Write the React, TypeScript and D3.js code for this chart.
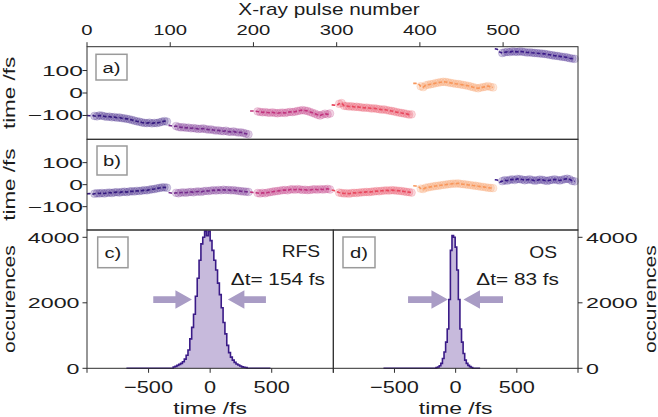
import React from "react";
import * as d3 from "d3";

// ---------- data ----------
const pulseTicks = [0, 100, 200, 300, 400, 500];
const timeTicksAB = [-100, 0, 100];
const histXTicks = [-1000, -500, 0, 500, 1000];
const histXLabels = [-500, 0, 500];
const histYTicks = [0, 2000, 4000];

const segStarts = [0, 98, 196, 294, 392, 490];
const pulseStep = 3;
const segColors = ["#35197f", "#742a8c", "#c1347e", "#e8485e", "#f8965a", "#3a1a88"];

// panel a) RFS arrival time (fs), one value every 3 pulses
const a1 = [-100,-101,-99,-102,-104,-100,-101,-104,-106,-105,-108,-107,-110,-109,-112,-113,-115,-117,-120,-123,-126,-128,-131,-133,-134,-132,-135,-133,-134,-131,-128,-125,-127];
const a2 = [-144,-146,-149,-147,-151,-153,-152,-155,-154,-157,-156,-158,-160,-159,-158,-161,-163,-162,-165,-167,-166,-169,-170,-168,-172,-173,-171,-174,-176,-175,-178,-181,-184];
const a3 = [-80,-80,-81,-82,-84,-86,-85,-87,-88,-86,-89,-90,-88,-87,-89,-86,-84,-85,-83,-80,-78,-76,-78,-80,-84,-88,-92,-97,-100,-96,-92,-95,-91];
const a4 = [-53,-54,-55,-48,-45,-57,-58,-60,-59,-62,-61,-63,-64,-66,-65,-67,-69,-68,-70,-72,-74,-73,-76,-78,-80,-82,-85,-87,-89,-91,-93,-96,-95];
const a5 = [43,43,42,30,26,34,37,39,41,44,46,48,50,49,47,45,43,41,40,38,36,34,32,29,26,23,21,24,26,28,31,27,25];
const a6 = [197,195,182,178,181,183,182,185,184,183,185,184,182,180,181,179,178,177,176,175,174,172,170,168,166,165,163,161,160,158,155,153,152];

// panel b) OS arrival time (fs)
const b1 = [-42,-40,-44,-41,-39,-40,-38,-40,-37,-36,-38,-35,-34,-36,-33,-32,-34,-31,-30,-31,-28,-29,-27,-25,-26,-23,-21,-20,-17,-15,-13,-12,-14];
const b2 = [-36,-38,-40,-37,-39,-36,-35,-37,-34,-33,-35,-32,-31,-33,-30,-28,-29,-27,-25,-27,-24,-26,-23,-25,-24,-26,-25,-27,-28,-30,-31,-32,-33];
const b3 = [-33,-35,-36,-38,-40,-37,-39,-36,-34,-32,-30,-29,-27,-25,-24,-26,-22,-21,-23,-20,-22,-24,-23,-25,-24,-22,-21,-23,-20,-22,-21,-19,-22];
const b4 = [-24,-27,-32,-36,-38,-40,-39,-41,-38,-37,-38,-36,-35,-34,-33,-34,-32,-31,-29,-30,-28,-27,-26,-27,-25,-26,-27,-28,-29,-31,-33,-34,-36];
const b5 = [-5,-6,-8,-18,-20,-14,-12,-10,-8,-6,-5,-3,-1,0,2,3,5,4,6,3,2,1,-1,-2,-4,-5,-7,-9,-10,-12,-14,-15,-16];
const b6 = [22,21,12,16,20,18,22,24,21,26,25,23,20,22,24,21,18,20,23,22,19,17,20,22,24,21,19,22,25,27,24,17,15];

const seriesA = [a1, a2, a3, a4, a5, a6];
const seriesB = [b1, b2, b3, b4, b5, b6];

// panel c) RFS histogram
const rfsStart = -300;
const rfsBin = 15;
const rfsCounts = [40,60,90,120,150,200,280,400,560,900,1250,1650,2200,2750,3300,3800,4000,4190,4050,4180,3900,3600,3300,3000,2600,2250,1850,1400,1050,700,480,340,250,180,130,100,70,45,30,20];
const rfsTail = [-680, 490];

// panel d) OS histogram
const osStart = -160;
const osBin = 13;
const osCounts = [20,40,80,150,300,500,800,1200,2100,3600,4050,4000,3700,3000,2100,1200,800,450,250,150,90,50,25];
const osTail = [-590, 200];

// annotation: FWHM arrows (tail, tip) in fs, at half maximum
const rfsArrows = [[-462, -148], [453, 144]];
const osArrows = [[-389, -63], [387, 64]];
const halfMax = 2100;

// ---------- drawing ----------
const FONT = "'Liberation Sans', Arial, sans-serif";
const INK = "#1c1c1c";
const AX = "#2e2e2e";

function Label({ x, y, text, size, sx = 1.35, anchor = "middle", rot = 0 }: any) {
  return (
    <text
      transform={`translate(${x},${y}) rotate(${rot}) scale(${sx},1)`}
      fontSize={size}
      fontFamily={FONT}
      textAnchor={anchor}
      fill={INK}
    >
      {text}
    </text>
  );
}

const fmt = (v: number) => (v < 0 ? "\u2212" + Math.abs(v) : String(v));

function Series({ vals, start, color, x, y }: any) {
  const pts: [number, number][] = vals.map((v: number, i: number) => [x(start + i * pulseStep), y(v)]);
  const line = d3.line()(pts) || "";
  return (
    <g>
      {pts.slice(3).map(([px, py], i) => (
        <circle key={i} cx={px} cy={py} r={3.9} fill={color} fillOpacity={0.22} stroke={color} strokeOpacity={0.22} strokeWidth={0.8} />
      ))}
      <path d={line} fill="none" stroke={color} strokeWidth={1.6} strokeDasharray="3.5 2" />
    </g>
  );
}

function Hist({ counts, start, width, tail, x, y }: any) {
  const pts: [number, number][] = [[tail[0], 0], [start, 0]];
  counts.forEach((c: number, i: number) => {
    pts.push([start + i * width, c]);
    pts.push([start + (i + 1) * width, c]);
  });
  pts.push([start + counts.length * width, 0]);
  pts.push([tail[1], 0]);
  const line = d3.line<[number, number]>().x((d) => x(d[0])).y((d) => y(d[1]));
  const area = d3.area<[number, number]>().x((d) => x(d[0])).y0(y(0)).y1((d) => y(d[1]));
  return (
    <g>
      <path d={area(pts) || ""} fill="#c7badc" />
      <path d={line(pts) || ""} fill="none" stroke="#3a1b87" strokeWidth={1.6} />
    </g>
  );
}

function Arrow({ tail, tip, x, y }: any) {
  const xt = x(tail), xp = x(tip);
  const dir = Math.sign(xp - xt);
  const hl = 16.5, sh = 3.4, hh = 9.3;
  const xb = xp - dir * hl;
  const pts = [
    [xt, y - sh], [xb, y - sh], [xb, y - hh], [xp, y], [xb, y + hh], [xb, y + sh], [xt, y + sh],
  ];
  return <polygon points={pts.map((p) => p.join(",")).join(" ")} fill="#a99cc5" />;
}

function Box({ x, y, w, h, text }: any) {
  return (
    <g>
      <rect x={x} y={y} width={w} height={h} fill="white" stroke="#9a9a9a" strokeWidth={1.5} />
      <Label x={x + w / 2} y={y + h / 2 + 5.5} text={text} size={15} sx={1.35} />
    </g>
  );
}

export default function App() {
  const W = 658, H = 417;
  const L = 87, R = 578, M = 333.3;
  const aTop = 46.7, abY = 139.3, bcY = 230, cBot = 368.3;

  const xP = d3.scaleLinear().domain([0, 590]).range([L, R]);
  const yA = d3.scaleLinear().domain([-206, 206]).range([abY, aTop]);
  const yB = d3.scaleLinear().domain([-206, 206]).range([bcY, abY]);
  const xC = d3.scaleLinear().domain([-1000, 1000]).range([L, M]);
  const xD = d3.scaleLinear().domain([-1000, 1000]).range([M, R]);
  const yH = d3.scaleLinear().domain([0, 4223]).range([cBot, bcY]);

  const tk = 4.5;

  return (
    <svg width={W} height={H} style={{ position: "absolute", left: 0, top: 0, background: "white" }}>
      <rect x={0} y={0} width={W} height={H} fill="white" />

      {/* series */}
      {seriesA.map((vals, i) => (
        <Series key={"a" + i} vals={vals} start={segStarts[i]} color={segColors[i]} x={xP} y={yA} />
      ))}
      {seriesB.map((vals, i) => (
        <Series key={"b" + i} vals={vals} start={segStarts[i]} color={segColors[i]} x={xP} y={yB} />
      ))}

      {/* histograms */}
      <Hist counts={rfsCounts} start={rfsStart} width={rfsBin} tail={rfsTail} x={xC} y={yH} />
      <Hist counts={osCounts} start={osStart} width={osBin} tail={osTail} x={xD} y={yH} />
      {rfsArrows.map((a, i) => (
        <Arrow key={"ra" + i} tail={a[0]} tip={a[1]} x={xC} y={yH(halfMax)} />
      ))}
      {osArrows.map((a, i) => (
        <Arrow key={"oa" + i} tail={a[0]} tip={a[1]} x={xD} y={yH(halfMax)} />
      ))}

      {/* frames */}
      <g fill="none" stroke={AX} strokeWidth={1}>
        <rect x={L} y={aTop} width={R - L} height={abY - aTop} />
        <rect x={L} y={abY} width={R - L} height={bcY - abY} />
        <rect x={L} y={bcY} width={M - L} height={cBot - bcY} />
        <rect x={M} y={bcY} width={R - M} height={cBot - bcY} />
      </g>

      {/* ticks */}
      <g stroke={AX} strokeWidth={1}>
        {pulseTicks.map((t) => (
          <line key={"pt" + t} x1={xP(t)} x2={xP(t)} y1={aTop} y2={aTop - tk} />
        ))}
        {timeTicksAB.map((t) => (
          <line key={"ya" + t} x1={L - tk} x2={L} y1={yA(t)} y2={yA(t)} />
        ))}
        {timeTicksAB.map((t) => (
          <line key={"yb" + t} x1={L - tk} x2={L} y1={yB(t)} y2={yB(t)} />
        ))}
        {histYTicks.map((t) => (
          <line key={"yc" + t} x1={L - tk} x2={L} y1={yH(t)} y2={yH(t)} />
        ))}
        {histYTicks.map((t) => (
          <line key={"yd" + t} x1={R} x2={R + tk} y1={yH(t)} y2={yH(t)} />
        ))}
        {histXTicks.map((t) => (
          <line key={"xc" + t} x1={xC(t)} x2={xC(t)} y1={cBot} y2={cBot + tk} />
        ))}
        {histXTicks.map((t) => (
          <line key={"xd" + t} x1={xD(t)} x2={xD(t)} y1={cBot} y2={cBot + tk} />
        ))}
      </g>

      {/* tick labels */}
      {pulseTicks.map((t) => (
        <Label key={"ptl" + t} x={xP(t)} y={35} text={String(t)} size={14} sx={1.45} />
      ))}
      {timeTicksAB.map((t) => (
        <Label key={"yal" + t} x={L - 4} y={yA(t) + 5} text={fmt(t)} size={14.5} sx={1.7} anchor="end" />
      ))}
      {timeTicksAB.map((t) => (
        <Label key={"ybl" + t} x={L - 4} y={yB(t) + 5} text={fmt(t)} size={14.5} sx={1.7} anchor="end" />
      ))}
      {histYTicks.map((t) => (
        <Label key={"ycl" + t} x={L - 7.5} y={yH(t) + 5.5} text={String(t)} size={15.5} sx={1.5} anchor="end" />
      ))}
      {histYTicks.map((t) => (
        <Label key={"ydl" + t} x={R + 8} y={yH(t) + 5.5} text={String(t)} size={15.5} sx={1.5} anchor="start" />
      ))}
      {histXLabels.map((t) => (
        <Label key={"xcl" + t} x={xC(t)} y={393.3} text={fmt(t)} size={17} sx={1.28} />
      ))}
      {histXLabels.map((t) => (
        <Label key={"xdl" + t} x={xD(t)} y={393.3} text={fmt(t)} size={17} sx={1.28} />
      ))}

      {/* axis titles */}
      <Label x={329} y={15} text="X-ray pulse number" size={16} sx={1.3} />
      <Label x={15} y={(aTop + abY) / 2} text="time /fs" size={16} sx={1.4} rot={-90} />
      <Label x={15} y={(abY + bcY) / 2} text="time /fs" size={16} sx={1.4} rot={-90} />
      <Label x={15} y={(bcY + cBot) / 2} text="occurences" size={16} sx={1.32} rot={-90} />
      <Label x={656} y={(bcY + cBot) / 2} text="occurences" size={16} sx={1.32} rot={-90} />
      <Label x={(L + M) / 2} y={413.5} text="time /fs" size={16} sx={1.43} />
      <Label x={(M + R) / 2} y={413.5} text="time /fs" size={16} sx={1.43} />

      {/* panel labels */}
      <Box x={96} y={54.3} w={31} h={25.7} text="a)" />
      <Box x={97} y={146} w={30} h={29} text="b)" />
      <Box x={97.7} y={237} w={30.3} h={30.7} text="c)" />
      <Box x={343} y={237} w={32} h={30.7} text="d)" />

      <Label x={320} y={257} text="RFS" size={16} sx={1.2} anchor="end" />
      <Label x={325} y={285} text="Δt= 154 fs" size={16} sx={1.3} anchor="end" />
      <Label x={557} y={258} text="OS" size={16} sx={1.2} anchor="end" />
      <Label x={559} y={285} text="Δt= 83 fs" size={16} sx={1.3} anchor="end" />
    </svg>
  );
}
